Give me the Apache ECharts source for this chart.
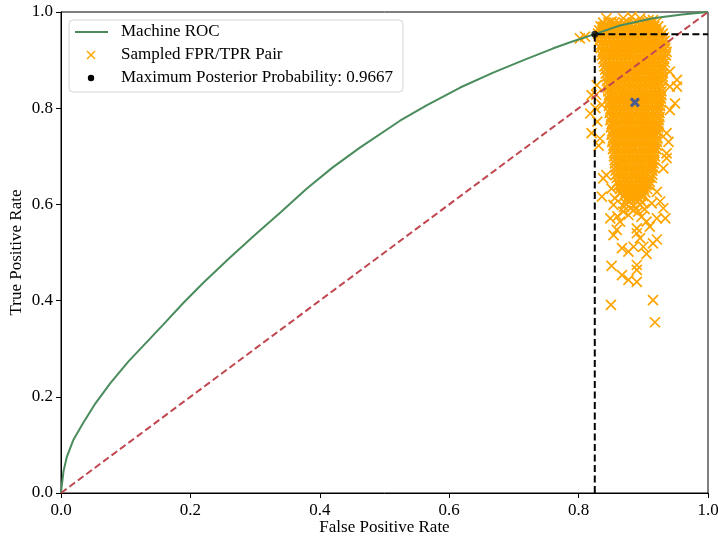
<!DOCTYPE html>
<html>
<head>
<meta charset="utf-8">
<script src="https://cdn.jsdelivr.net/npm/echarts/dist/echarts.min.js"></script>
<style>
  html, body { margin: 0; padding: 0; background: #fff; }
  #chart { width: 718px; height: 541px; }
</style>
</head>
<body>
<div id="chart"></div>
<script>
// Machine ROC curve as [FPR, TPR]
var rocCurve = [
  [0, 0], [0.001, 0.013], [0.004, 0.046], [0.009, 0.075], [0.019, 0.110], [0.034, 0.145],
  [0.053, 0.186], [0.076, 0.228], [0.104, 0.273], [0.127, 0.306], [0.158, 0.350],
  [0.189, 0.395], [0.22, 0.437], [0.26, 0.488], [0.30, 0.537], [0.34, 0.584],
  [0.38, 0.633], [0.42, 0.677], [0.462, 0.718], [0.524, 0.774], [0.565, 0.806],
  [0.617, 0.843], [0.668, 0.874], [0.715, 0.900], [0.76, 0.924], [0.787, 0.937],
  [0.825, 0.954], [0.864, 0.972], [0.915, 0.987], [0.96, 0.995], [1, 1]
];

// Chance diagonal
var chanceLine = [[0, 0], [1, 1]];

// Sampled FPR/TPR pairs, dense part: [TPR, [FPR, ...]]
var sampleRows = [
  [0.978, [0.838,0.846,0.855,0.862,0.870,0.877,0.885,0.892,0.900,0.907,0.914,0.920]],
  [0.970, [0.834,0.840,0.847,0.853,0.859,0.866,0.872,0.878,0.885,0.891,0.897,0.904,0.910,0.917,0.923]],
  [0.962, [0.832,0.837,0.843,0.850,0.856,0.862,0.869,0.875,0.881,0.888,0.894,0.900,0.907,0.913,0.920,0.927]],
  [0.955, [0.830,0.836,0.842,0.848,0.855,0.861,0.867,0.873,0.880,0.886,0.892,0.899,0.905,0.911,0.918,0.924,0.930]],
  [0.947, [0.833,0.839,0.845,0.852,0.858,0.864,0.870,0.877,0.883,0.889,0.896,0.902,0.908,0.915,0.921,0.927,0.932]],
  [0.940, [0.832,0.838,0.844,0.850,0.857,0.863,0.869,0.875,0.882,0.888,0.894,0.901,0.907,0.913,0.919,0.926,0.933]],
  [0.932, [0.835,0.841,0.847,0.854,0.860,0.866,0.872,0.879,0.885,0.891,0.897,0.904,0.910,0.916,0.923,0.929,0.935]],
  [0.925, [0.834,0.840,0.846,0.852,0.858,0.865,0.871,0.877,0.883,0.890,0.896,0.902,0.908,0.915,0.921,0.927,0.934]],
  [0.917, [0.837,0.843,0.849,0.855,0.862,0.868,0.874,0.880,0.887,0.893,0.899,0.905,0.912,0.918,0.924,0.930,0.936]],
  [0.910, [0.836,0.842,0.848,0.854,0.860,0.867,0.873,0.879,0.885,0.892,0.898,0.904,0.910,0.917,0.923,0.929,0.935]],
  [0.902, [0.838,0.845,0.851,0.857,0.863,0.870,0.876,0.882,0.888,0.895,0.901,0.907,0.913,0.920,0.926,0.932]],
  [0.895, [0.839,0.845,0.851,0.857,0.864,0.870,0.876,0.882,0.889,0.895,0.901,0.907,0.914,0.920,0.926,0.933]],
  [0.887, [0.840,0.847,0.853,0.859,0.865,0.872,0.878,0.884,0.890,0.897,0.903,0.909,0.915,0.922,0.928,0.932]],
  [0.880, [0.841,0.847,0.853,0.860,0.866,0.872,0.878,0.885,0.891,0.897,0.903,0.910,0.916,0.922,0.929]],
  [0.872, [0.842,0.849,0.855,0.861,0.867,0.874,0.880,0.886,0.892,0.899,0.905,0.911,0.917,0.924,0.930]],
  [0.865, [0.843,0.849,0.855,0.862,0.868,0.874,0.880,0.887,0.893,0.899,0.905,0.912,0.918,0.924,0.930]],
  [0.857, [0.844,0.850,0.857,0.863,0.869,0.875,0.882,0.888,0.894,0.900,0.907,0.913,0.919,0.925,0.930]],
  [0.850, [0.845,0.851,0.857,0.863,0.870,0.876,0.882,0.888,0.895,0.901,0.907,0.913,0.920,0.926]],
  [0.842, [0.845,0.852,0.858,0.864,0.870,0.877,0.883,0.889,0.895,0.902,0.908,0.914,0.920,0.927]],
  [0.835, [0.846,0.852,0.858,0.865,0.871,0.877,0.883,0.890,0.896,0.902,0.908,0.915,0.921,0.928]],
  [0.827, [0.847,0.853,0.859,0.866,0.872,0.878,0.884,0.891,0.897,0.903,0.909,0.916,0.922,0.928]],
  [0.820, [0.846,0.852,0.859,0.865,0.871,0.877,0.884,0.890,0.896,0.902,0.909,0.915,0.921,0.927]],
  [0.812, [0.848,0.854,0.860,0.867,0.873,0.879,0.885,0.892,0.898,0.904,0.910,0.917,0.923,0.927]],
  [0.805, [0.847,0.853,0.860,0.866,0.872,0.878,0.885,0.891,0.897,0.903,0.910,0.916,0.922,0.926]],
  [0.797, [0.849,0.855,0.861,0.868,0.874,0.880,0.886,0.893,0.899,0.905,0.911,0.918,0.924]],
  [0.790, [0.848,0.854,0.861,0.867,0.873,0.879,0.886,0.892,0.898,0.904,0.911,0.917,0.925]],
  [0.782, [0.850,0.856,0.862,0.869,0.875,0.881,0.887,0.894,0.900,0.906,0.912,0.919,0.925]],
  [0.775, [0.849,0.855,0.862,0.868,0.874,0.880,0.887,0.893,0.899,0.905,0.912,0.918,0.924]],
  [0.767, [0.851,0.857,0.863,0.870,0.876,0.882,0.888,0.895,0.901,0.907,0.913,0.920,0.924]],
  [0.760, [0.850,0.856,0.863,0.869,0.875,0.881,0.888,0.894,0.900,0.906,0.913,0.919,0.923]],
  [0.752, [0.852,0.858,0.864,0.871,0.877,0.883,0.889,0.896,0.902,0.908,0.914,0.920,0.923]],
  [0.745, [0.851,0.857,0.864,0.870,0.876,0.882,0.889,0.895,0.901,0.907,0.914,0.920]],
  [0.737, [0.853,0.859,0.865,0.872,0.878,0.884,0.890,0.897,0.903,0.909,0.915,0.922]],
  [0.730, [0.852,0.858,0.865,0.871,0.877,0.883,0.890,0.896,0.902,0.908,0.915,0.921]],
  [0.722, [0.854,0.860,0.866,0.873,0.879,0.885,0.891,0.898,0.904,0.910,0.916,0.921]],
  [0.715, [0.853,0.859,0.866,0.872,0.878,0.884,0.891,0.897,0.903,0.909,0.916,0.920]],
  [0.707, [0.855,0.861,0.867,0.874,0.880,0.886,0.892,0.899,0.905,0.911,0.917]],
  [0.700, [0.855,0.862,0.868,0.875,0.881,0.887,0.893,0.900,0.906,0.912,0.918]],
  [0.692, [0.856,0.863,0.869,0.876,0.882,0.888,0.894,0.901,0.907,0.913,0.917]],
  [0.685, [0.856,0.862,0.868,0.875,0.881,0.887,0.893,0.900,0.906,0.912,0.916]],
  [0.677, [0.857,0.863,0.869,0.876,0.882,0.888,0.894,0.901,0.907,0.913,0.916]],
  [0.670, [0.857,0.864,0.870,0.877,0.883,0.889,0.895,0.902,0.908,0.914]],
  [0.662, [0.858,0.864,0.870,0.876,0.883,0.889,0.895,0.901,0.908,0.914]],
  [0.655, [0.859,0.866,0.872,0.878,0.885,0.891,0.897,0.903,0.909,0.913]],
  [0.647, [0.860,0.867,0.873,0.879,0.886,0.892,0.898,0.904,0.910]],
  [0.640, [0.862,0.868,0.874,0.881,0.887,0.893,0.899,0.905,0.909]],
  [0.632, [0.864,0.870,0.877,0.883,0.889,0.895,0.901,0.906]],
  [0.625, [0.866,0.873,0.879,0.885,0.891,0.897,0.903]],
  [0.617, [0.870,0.877,0.883,0.890,0.896,0.900]],
  [0.610, [0.874,0.881,0.888,0.895]]
];

// Sampled FPR/TPR pairs, scattered edge and tail samples: [FPR, TPR]
var sampleStrays = [
  [0.802,0.945],[0.810,0.949],[0.838,0.969],[0.843,0.987],[0.851,0.980],[0.869,0.987],
  [0.882,0.990],[0.895,0.987],[0.908,0.983],[0.915,0.983],[0.941,0.876],[0.952,0.859],
  [0.941,0.845],[0.952,0.845],[0.949,0.810],[0.941,0.796],[0.936,0.748],[0.939,0.730],
  [0.936,0.706],[0.828,0.848],[0.820,0.827],[0.836,0.807],[0.818,0.789],[0.820,0.748],
  [0.833,0.737],[0.838,0.654],[0.843,0.661],[0.931,0.675],[0.936,0.696],[0.836,0.616],
  [0.851,0.633],[0.864,0.623],[0.921,0.626],[0.856,0.613],[0.879,0.606],[0.926,0.606],
  [0.895,0.599],[0.913,0.602],[0.854,0.599],[0.931,0.592],[0.885,0.588],[0.869,0.585],
  [0.877,0.578],[0.849,0.571],[0.897,0.574],[0.921,0.571],[0.934,0.571],[0.905,0.564],
  [0.864,0.564],[0.910,0.554],[0.890,0.550],[0.859,0.547],[0.854,0.536],[0.890,0.540],
  [0.895,0.530],[0.921,0.527],[0.915,0.519],[0.885,0.512],[0.900,0.512],[0.867,0.509],
  [0.877,0.502],[0.905,0.497],[0.851,0.472],[0.890,0.474],[0.890,0.464],[0.867,0.453],
  [0.877,0.443],[0.890,0.439],[0.915,0.401],[0.850,0.391],[0.918,0.355],
  [0.872,0.603],[0.885,0.598],[0.898,0.604],[0.880,0.592],[0.892,0.585],[0.902,0.590],
  [0.870,0.595],[0.860,0.575],[0.826,0.800],[0.829,0.772],[0.831,0.722],[0.827,0.828]
];

// Mean of the sampled pairs
var sampleMean = [0.887, 0.812];

// Maximum posterior probability operating point
var mapPoint = [0.825, 0.954];
var mapProbability = '0.9667';

var samplePoints = [];
sampleRows.forEach(function (row) {
  row[1].forEach(function (fpr) { samplePoints.push([fpr, row[0]]); });
});
sampleStrays.forEach(function (p) { samplePoints.push(p); });

var crossPath = 'path://M0,0L10,10M10,0L0,10';
var serif = '"Liberation Serif", "DejaVu Serif", serif';
var colors = {
  roc: '#4a8c5c',
  chance: '#c0474f',
  sample: '#ffa500',
  mean: '#1f48b0',
  map: '#000000'
};

var chart = echarts.init(document.getElementById('chart'), null, { renderer: 'canvas' });

function axisBase(name) {
  return {
    type: 'value',
    min: 0,
    max: 1,
    interval: 0.2,
    name: name,
    nameLocation: 'middle',
    nameMoveOverlap: false,
    nameTextStyle: { fontFamily: serif, fontSize: 17, color: '#000' },
    axisLine: { show: true, onZero: false, lineStyle: { color: '#000', width: 1 } },
    axisTick: { show: true, inside: false, length: 5, lineStyle: { color: '#000', width: 1 } },
    axisLabel: {
      fontFamily: serif, fontSize: 17, color: '#000', margin: 8,
      formatter: function (v) { return v.toFixed(1); }
    },
    splitLine: { show: false }
  };
}

var xAxis = axisBase('False Positive Rate');
xAxis.nameGap = 26;
xAxis.axisLabel.margin = 9;
var yAxis = axisBase('True Positive Rate');
yAxis.nameGap = 36;

var rowY = [32, 55, 78];
var legendFont = '17px ' + serif;

chart.setOption({
  animation: false,
  backgroundColor: '#fff',
  grid: {
    left: 61, right: 10, top: 12, bottom: 48,
    containLabel: false,
    outerBoundsMode: 'none',
    show: true, borderColor: '#000', borderWidth: 1, backgroundColor: 'transparent'
  },
  xAxis: xAxis,
  yAxis: yAxis,
  series: [
    {
      name: 'Sampled FPR/TPR Pair',
      type: 'scatter',
      data: samplePoints,
      symbol: crossPath,
      symbolSize: 10,
      itemStyle: { color: 'rgba(0,0,0,0)', borderColor: colors.sample, borderWidth: 1.7, opacity: 1 },
      silent: true,
      z: 1
    },
    {
      name: 'Machine ROC',
      type: 'line',
      data: rocCurve,
      showSymbol: false,
      smooth: false,
      lineStyle: { color: colors.roc, width: 2 },
      silent: true,
      z: 2
    },
    {
      name: 'Chance',
      type: 'line',
      data: chanceLine,
      showSymbol: false,
      lineStyle: { color: colors.chance, width: 2, type: [7, 3.5] },
      silent: true,
      z: 3
    },
    {
      name: 'Operating threshold',
      type: 'line',
      data: [[mapPoint[0], 0], mapPoint, [1, mapPoint[1]]],
      showSymbol: false,
      lineStyle: { color: '#000', width: 2, type: [7, 3.5] },
      silent: true,
      z: 4
    },
    {
      name: 'Sample mean',
      type: 'scatter',
      data: [sampleMean],
      symbol: crossPath,
      symbolSize: 8,
      itemStyle: { color: 'rgba(0,0,0,0)', borderColor: colors.mean, borderWidth: 3 },
      silent: true,
      z: 5
    },
    {
      name: 'Maximum Posterior Probability: ' + mapProbability,
      type: 'scatter',
      data: [mapPoint],
      symbol: 'circle',
      symbolSize: 7,
      itemStyle: { color: colors.map },
      silent: true,
      z: 6
    }
  ],
  graphic: {
    elements: [
      {
        type: 'rect',
        x: 69, y: 20,
        shape: { x: 0, y: 0, width: 334, height: 72, r: 4 },
        style: { fill: 'rgba(255,255,255,0.85)', stroke: '#d6d6d6', lineWidth: 1 },
        z: 10
      },
      {
        type: 'line',
        shape: { x1: 75, y1: rowY[0], x2: 108, y2: rowY[0] },
        style: { stroke: colors.roc, lineWidth: 2 },
        z: 11
      },
      {
        type: 'line',
        shape: { x1: 87, y1: rowY[1] - 4, x2: 95, y2: rowY[1] + 4 },
        style: { stroke: colors.sample, lineWidth: 1.5 },
        z: 11
      },
      {
        type: 'line',
        shape: { x1: 95, y1: rowY[1] - 4, x2: 87, y2: rowY[1] + 4 },
        style: { stroke: colors.sample, lineWidth: 1.5 },
        z: 11
      },
      {
        type: 'circle',
        shape: { cx: 91, cy: rowY[2], r: 3.2 },
        style: { fill: colors.map },
        z: 11
      },
      {
        type: 'text', x: 121, y: rowY[0],
        style: { text: 'Machine ROC', font: legendFont, fill: '#000', verticalAlign: 'middle' }, z: 11
      },
      {
        type: 'text', x: 121, y: rowY[1],
        style: { text: 'Sampled FPR/TPR Pair', font: legendFont, fill: '#000', verticalAlign: 'middle' }, z: 11
      },
      {
        type: 'text', x: 121, y: rowY[2],
        style: { text: 'Maximum Posterior Probability: ' + mapProbability, font: legendFont, fill: '#000', verticalAlign: 'middle' }, z: 11
      }
    ]
  }
});
</script>
</body>
</html>
